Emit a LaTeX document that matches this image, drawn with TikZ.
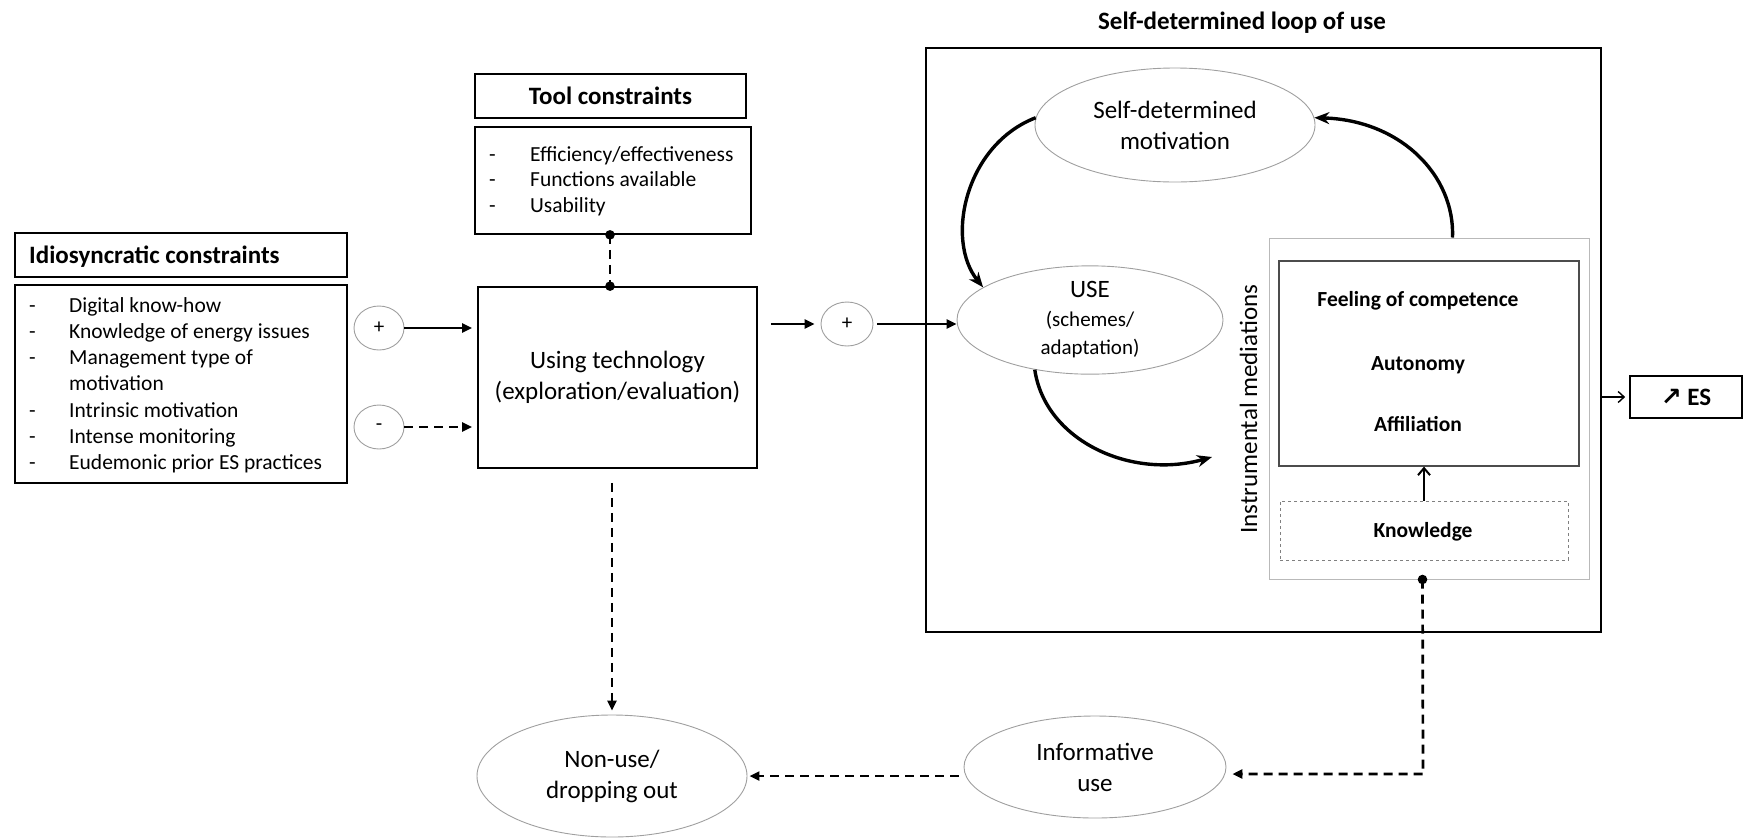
\documentclass[tikz,border=0pt]{standalone}
\usepackage{fontspec}
\setmainfont{Carlito}
\newfontfamily\glyphfont{DejaVu Sans}
\usetikzlibrary{arrows.meta,shapes.geometric,calc}
\newcommand\ftitle{\bfseries\fontsize{25}{30}\selectfont}
\newcommand\fitem{\fontsize{21.5}{26.3}\selectfont}
\newcommand\fitemb{\fontsize{21.5}{25.7}\selectfont}
\newcommand\fbig{\fontsize{25}{31}\selectfont}
\newcommand\fsb{\bfseries\fontsize{21.5}{26}\selectfont}
\newcommand\fsign{\fontsize{21}{24}\selectfont}
\newcommand\ldash{\makebox[40pt][l]{-}}
\newcommand\tdash{\makebox[41pt][l]{-}}
\begin{document}
\begin{tikzpicture}[x=1pt,y=-1pt,
  box/.style={draw, line width=1.7pt, inner sep=0pt},
  oval/.style={draw=gray!75, line width=0.9pt, ellipse, inner sep=0pt},
  lbl/.style={inner sep=0pt},
  arr/.style={line width=2.7pt, -{Triangle[length=10pt,width=9pt]}},
  darr/.style={arr, dash pattern=on 9pt off 6pt},
  dline/.style={line width=2.7pt, dash pattern=on 9pt off 6pt},
  curv/.style={line width=3.4pt, -{Stealth[length=15pt,width=12pt]}},
  openarr/.style={line width=2pt, -{Straight Barb[length=7pt,width=12pt]}}]
\useasboundingbox (0,0) rectangle (1744,839);

% Idiosyncratic constraints
\node[box, minimum width=332, minimum height=44] (idt) at (181,255) {};
\node[lbl, anchor=base west, font=\ftitle] (idtl) at (29,263) {Idiosyncratic constraints};
\node[box, minimum width=332, minimum height=198] (idl) at (181,384) {};
\node[lbl, anchor=base west, font=\fitem] (idtx) at (29,312) {\begin{tabular}[t]{@{}l@{}}
\ldash Digital know-how\\
\ldash Knowledge of energy issues\\
\ldash Management type of\\
\makebox[40pt]{}motivation\\
\ldash Intrinsic motivation\\
\ldash Intense monitoring\\
\ldash Eudemonic prior ES practices
\end{tabular}};

% Tool constraints
\node[box, minimum width=271, minimum height=44, font=\ftitle] (tct) at (610.5,96) {Tool constraints};
\node[box, minimum width=276, minimum height=107] (tcl) at (613,180.5) {};
\node[lbl, anchor=base west, font=\fitemb] (tctx) at (489,161) {\begin{tabular}[t]{@{}l@{}}
\tdash Efficiency/effectiveness\\
\tdash Functions available\\
\tdash Usability
\end{tabular}};

% Using technology
\node[box, minimum width=279, minimum height=181, font=\fbig, align=center] (ut) at (617.5,377.5) {Using technology\\(exploration/evaluation)};

% connector tool -> using
\coordinate (tx) at (610,0);
\draw[dline] (tx |- tcl.south) -- (tx |- ut.north);
\fill (tx |- tcl.south) circle (4.8);
\fill (tx |- ut.north) circle (4.8);

% plus / minus
\node[oval, minimum width=50, minimum height=44, font=\fsign] (pl) at (379,328) {+};
\node[oval, minimum width=50, minimum height=44, font=\fsign] (mi) at (379,427) {-};
\draw[arr, shorten >=5pt] (pl.east) -- (pl.east -| ut.west);
\draw[darr, shorten >=5pt] (mi.east) -- (mi.east -| ut.west);

% loop box
\node[draw, line width=2pt, minimum width=675, minimum height=584, inner sep=0pt] (loop) at (1263.5,340) {};
\node[lbl, anchor=base, font=\ftitle] (loopt) at (1242,29) {Self-determined loop of use};

\node[oval, minimum width=52, minimum height=44, font=\fsign] (pl2) at (847,324) {+};
\node[oval, minimum width=280, minimum height=114, align=center, font=\fbig] (sdm) at (1175,125) {Self-determined\\motivation};
\node[oval, minimum width=266, minimum height=104, align=center, font=\fontsize{21}{28.5}\selectfont] (use) at (1090,320) {{\fontsize{25}{29}\selectfont USE}\\(schemes/\\adaptation)};

\draw[arr, shorten <=13pt, shorten >=6pt] (ut.east |- pl2.west) -- (pl2.west);
\draw[arr, shorten <=4pt] (pl2.east) -- (pl2.east -| use.west);

% instrumental mediations
\node[draw=gray!55, line width=1pt, minimum width=320, minimum height=341, inner sep=0pt] (imb) at (1429,408.5) {};
\node[draw=black!70, line width=1.2pt, minimum width=300, minimum height=205, inner sep=0pt] (inn) at (1429,363.5) {};
\node[draw=gray, dashed, line width=0.8pt, minimum width=288, minimum height=59, inner sep=0pt] (kn) at (1424,530.5) {};
\node[lbl, anchor=base, font=\fsb] (foc) at (1418,306) {Feeling of competence};
\node[lbl, anchor=base, font=\fsb] (aut) at (1418,370) {Autonomy};
\node[lbl, anchor=base, font=\fsb] (aff) at (1418,431) {Affiliation};
\node[lbl, anchor=base, font=\fsb] (knt) at (1423,537) {Knowledge};
\node[lbl, anchor=base, rotate=90, font=\fbig] (imt) at (1257,409) {Instrumental mediations};
\draw[openarr] (kn.north) -- (kn.north |- inn.south);

% loop curves
\coordinate (imin) at (1212,457);
\draw[curv] (sdm.177) .. controls (965,145) and (945,240) .. (use.163);
\draw[curv] (use.222) .. controls (1045,440) and (1130,480) .. (imin);
\draw[curv] ($(imb.north west)+(184,0)$) .. controls (1455,175) and (1400,120) .. (sdm.3);

% ES
\node[box, minimum width=112, minimum height=42, font=\ftitle] (es) at (1686,397) {{\glyphfont\bfseries ↗} ES};
\draw[line width=1.4pt, -{Straight Barb[length=6pt,width=11pt]}, shorten >=4pt] (loop.east |- es.west) -- (es.west);

% bottom
\node[oval, minimum width=262, minimum height=102, align=center, font=\fbig] (inf) at (1095,767) {Informative\\use};
\node[oval, minimum width=270, minimum height=122, align=center, font=\fbig] (nu) at (612,776) {Non-use/\\dropping out};

\coordinate (kdot) at ($(imb.south west)+(154,0)$);
\coordinate (kturn) at (1423,774);
\fill (kdot) circle (4.8);
\draw[darr, shorten >=6pt] (kdot) -- (kturn) -- (kturn -| inf.east);
\draw[darr, shorten <=7pt, shorten >=2pt] (inf.184) -- (inf.184 -| nu.east);
\draw[darr, shorten <=14pt, shorten >=4pt] (nu.north |- ut.south) -- (nu.north);
\end{tikzpicture}
\end{document}
